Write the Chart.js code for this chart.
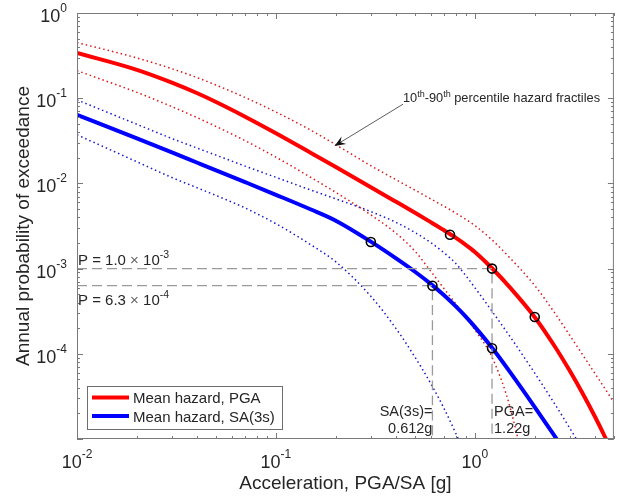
<!DOCTYPE html>
<html>
<head>
<meta charset="utf-8">
<script src="https://cdn.jsdelivr.net/npm/chart.js@4.4.0/dist/chart.umd.min.js"></script>
<style>
  html, body { margin: 0; padding: 0; background: #fff; }
</style>
</head>
<body>
<canvas id="myChart" width="620" height="498"></canvas>
<script>
// acceleration grid [g], shared by every hazard curve
const accel = [0.01, 0.02, 0.03, 0.04, 0.05, 0.07, 0.1, 0.15, 0.2, 0.3, 0.4, 0.5, 0.6, 0.7, 0.8, 0.9, 1.0, 1.22, 1.5, 2.0, 2.5, 3.0, 3.5, 4.0, 4.5, 5.0];

// PGA hazard: mean, 90th and 10th percentile
const meanPGA = [0.34, 0.2153, 0.1524, 0.115, 0.0903, 0.0607, 0.0388, 0.02278, 0.01554, 0.00903, 0.00612, 0.00452, 0.00351, 0.00282, 0.00231, 0.0019, 0.001565, 0.00101, 0.000603, 0.000269, 0.000126, 0.0000631, 0.0000335, 0.0000186, 0.0000107, 0.0000063];
const p90PGA = [0.45, 0.2968, 0.2216, 0.175, 0.1426, 0.1019, 0.0688, 0.042, 0.02845, 0.01613, 0.0111, 0.00834, 0.00658, 0.00539, 0.0045, 0.00379, 0.0032, 0.00217, 0.001337, 0.000633, 0.00031, 0.000165, 0.0000956, 0.0000595, 0.0000392, 0.0000269];
const p10PGA = [0.2109, 0.117, 0.0796, 0.0593, 0.0466, 0.0317, 0.0203, 0.01173, 0.00784, 0.00427, 0.00262, 0.0016, 0.000933, 0.000582, 0.000389, 0.000269, 0.000191, 0.0000912, 0.000024, 0.00000126, null, null, null, null, null, null];

// SA(3s) hazard: mean, 90th and 10th percentile
const meanSA = [0.0637, 0.0337, 0.0231, 0.0176, 0.01425, 0.01035, 0.00735, 0.00494, 0.00365, 0.00207, 0.001326, 0.000918, 0.000661, 0.000486, 0.000362, 0.000273, 0.000207, 0.0001176, 0.0000613, 0.0000237, 0.0000111, 0.0000059, null, null, null, null];
const p90SA = [0.0955, 0.0494, 0.0336, 0.0261, 0.02145, 0.01595, 0.01178, 0.00835, 0.00659, 0.00467, 0.0035, 0.00265, 0.00202, 0.00153, 0.001155, 0.000829, 0.000598, 0.000316, 0.00016, 0.0000593, 0.0000266, 0.0000134, 0.00000735, 0.0000043, null, null];
const p10SA = [0.0372, 0.01794, 0.01172, 0.00892, 0.00721, 0.00515, 0.00336, 0.0019, 0.0012, 0.000473, 0.0002, 0.0000914, 0.0000449, 0.0000228, 0.0000118, 0.0000063, 0.0000035, null, null, null, null, null, null, null, null, null];

// circled points on the mean curves
const markPGAx = [0.75, 1.22, 2.0];
const markPGAy = [0.0025, 0.001, 0.00027];
const markSAx = [0.3, 0.612, 1.22];
const markSAy = [0.00205, 0.00063, 0.000116];

// design levels: probability and resulting acceleration
const refP = [1.0e-3, 6.3e-4];
const refAccel = [1.22, 0.612];

// axis range and labelled decades
const xMin = 0.01, xMax = 5;
const yMin = 1e-5, yMax = 1;
const xTickExp = [-2, -1, 0];
const yTickExp = [-4, -3, -2, -1, 0];

const FONT = '"Liberation Sans", Arial, Helvetica, sans-serif';
const TEXT = '#262626';
const AXIS = '#7a7a7a';
const RED = 'rgb(255,0,0)';
const BLUE = 'rgb(0,0,255)';

function toXY(ys) {
  return accel.map((x, i) => ({x: x, y: ys[i]})).filter(p => p.y != null);
}

function pairs(xs, ys) {
  return xs.map((x, i) => ({x: x, y: ys[i]}));
}

// draw a run of text pieces, some raised as superscripts
function drawRich(ctx, parts, x, y, align) {
  let w = 0;
  parts.forEach(p => {
    ctx.font = p.size + 'px ' + FONT;
    p.w = ctx.measureText(p.t).width;
    w += p.w;
  });
  let cx = align === 'right' ? x - w : (align === 'center' ? x - w / 2 : x);
  parts.forEach(p => {
    ctx.font = p.size + 'px ' + FONT;
    ctx.fillStyle = p.color || TEXT;
    ctx.fillText(p.t, cx, y - (p.rise || 0));
    cx += p.w;
  });
}

function pow10(e) {
  return [{t: '10', size: 18}, {t: String(e), size: 12, rise: 10}];
}

const hazardDecor = {
  id: 'hazardDecor',
  afterDraw(chart) {
    const ctx = chart.ctx;
    const a = chart.chartArea;
    const xs = chart.scales.x;
    const ys = chart.scales.y;
    ctx.save();
    ctx.textAlign = 'left';
    ctx.textBaseline = 'alphabetic';

    // box and inward ticks
    ctx.strokeStyle = AXIS;
    ctx.lineWidth = 1;
    ctx.strokeRect(a.left + 0.5, a.top + 0.5, a.right - a.left - 1, a.bottom - a.top - 1);
    ctx.beginPath();
    for (let e = -2; e <= 0; e++) {
      for (let m = 1; m <= 9; m++) {
        const v = m * Math.pow(10, e);
        if (v < xMin || v > xMax) continue;
        const px = Math.round(xs.getPixelForValue(v)) + 0.5;
        const len = m === 1 ? 6 : 3;
        ctx.moveTo(px, a.bottom); ctx.lineTo(px, a.bottom - len);
        ctx.moveTo(px, a.top); ctx.lineTo(px, a.top + len);
      }
    }
    for (let e = -5; e <= 0; e++) {
      for (let m = 1; m <= 9; m++) {
        const v = m * Math.pow(10, e);
        if (v < yMin || v > yMax) continue;
        const py = Math.round(ys.getPixelForValue(v)) + 0.5;
        const len = m === 1 ? 6 : 3;
        ctx.moveTo(a.left, py); ctx.lineTo(a.left + len, py);
        ctx.moveTo(a.right, py); ctx.lineTo(a.right - len, py);
      }
    }
    ctx.stroke();

    // tick labels
    xTickExp.forEach(e => {
      drawRich(ctx, pow10(e), xs.getPixelForValue(Math.pow(10, e)), a.bottom + 29, 'center');
    });
    yTickExp.forEach(e => {
      drawRich(ctx, pow10(e), a.left - 10, ys.getPixelForValue(Math.pow(10, e)) + 9, 'right');
    });

    // probability levels
    const cross = {t: ' \u00d7 ', size: 15, color: '#666'};
    drawRich(ctx, [{t: 'P = 1.0', size: 15}, cross, {t: '10', size: 15}, {t: '-3', size: 10.5, rise: 7}],
      a.left + 1, ys.getPixelForValue(refP[0]) - 4, 'left');
    drawRich(ctx, [{t: 'P = 6.3', size: 15}, cross, {t: '10', size: 15}, {t: '-4', size: 10.5, rise: 7}],
      a.left + 1, ys.getPixelForValue(refP[1]) + 19, 'left');

    // resulting accelerations
    const xSA = xs.getPixelForValue(refAccel[1]);
    const xPGA = xs.getPixelForValue(refAccel[0]);
    drawRich(ctx, [{t: 'SA(3s)=', size: 14.5}], xSA, a.bottom - 23, 'right');
    drawRich(ctx, [{t: '0.612g', size: 14.5}], xSA, a.bottom - 6, 'right');
    drawRich(ctx, [{t: 'PGA=', size: 14.5}], xPGA + 2, a.bottom - 23, 'left');
    drawRich(ctx, [{t: '1.22g', size: 14.5}], xPGA + 2, a.bottom - 6, 'left');

    // fractile note with arrow
    const tailX = xs.getPixelForValue(0.435), tailY = ys.getPixelForValue(0.085);
    const tipX = xs.getPixelForValue(0.197), tipY = ys.getPixelForValue(0.0275);
    drawRich(ctx, [
      {t: '10', size: 12.8}, {t: 'th', size: 9, rise: 5}, {t: '-90', size: 12.8}, {t: 'th', size: 9, rise: 5},
      {t: ' percentile hazard fractiles', size: 12.8}
    ], tailX, tailY - 2.5, 'left');
    const ang = Math.atan2(tipY - tailY, tipX - tailX);
    ctx.strokeStyle = '#333';
    ctx.lineWidth = 0.8;
    ctx.beginPath();
    ctx.moveTo(tailX, tailY);
    ctx.lineTo(tipX - 6 * Math.cos(ang), tipY - 6 * Math.sin(ang));
    ctx.stroke();
    ctx.translate(tipX, tipY);
    ctx.rotate(ang);
    ctx.fillStyle = '#111';
    ctx.beginPath();
    ctx.moveTo(0, 0);
    ctx.lineTo(-11, -4.5);
    ctx.lineTo(-7, 0);
    ctx.lineTo(-11, 4.5);
    ctx.closePath();
    ctx.fill();
    ctx.setTransform(1, 0, 0, 1, 0, 0);

    // legend
    const lx = a.left + 10, ly = a.bottom - 53;
    ctx.fillStyle = '#fff';
    ctx.fillRect(lx, ly, 195, 43);
    ctx.strokeStyle = '#6e6e6e';
    ctx.lineWidth = 1;
    ctx.strokeRect(lx + 0.5, ly + 0.5, 195, 43);
    chart.data.datasets.filter(d => d.inLegend).forEach((d, i) => {
      const ry = ly + 11.5 + i * 18.5;
      ctx.strokeStyle = d.borderColor;
      ctx.lineWidth = 4;
      ctx.beginPath();
      ctx.moveTo(lx + 5, ry);
      ctx.lineTo(lx + 42, ry);
      ctx.stroke();
      drawRich(ctx, [{t: d.label, size: 15}], lx + 46, ry + 5.5, 'left');
    });
    ctx.restore();
  }
};

const dotted = {borderWidth: 1.5, borderDash: [1.5, 3], pointRadius: 0, order: 3};
const circles = {showLine: false, pointRadius: 4.5, pointBorderWidth: 1.6, pointBorderColor: '#000',
  pointBackgroundColor: 'rgba(0,0,0,0)', order: 0};
const dashed = {borderColor: '#9a9a9a', borderWidth: 1.3, borderDash: [10, 5], pointRadius: 0, order: 1};

const ctx = document.getElementById('myChart');
const myChart = new Chart(ctx, {
  type: 'line',
  data: {
    datasets: [
      Object.assign({label: 'marks PGA', data: pairs(markPGAx, markPGAy)}, circles),
      Object.assign({label: 'marks SA', data: pairs(markSAx, markSAy)}, circles),
      Object.assign({label: 'level PGA', data: [{x: xMin, y: refP[0]}, {x: refAccel[0], y: refP[0]}, {x: refAccel[0], y: yMin}]}, dashed),
      Object.assign({label: 'level SA', data: [{x: xMin, y: refP[1]}, {x: refAccel[1], y: refP[1]}, {x: refAccel[1], y: yMin}]}, dashed),
      {label: 'Mean hazard, PGA', inLegend: true, data: toXY(meanPGA), borderColor: RED, borderWidth: 4, pointRadius: 0, order: 2},
      {label: 'Mean hazard, SA(3s)', inLegend: true, data: toXY(meanSA), borderColor: BLUE, borderWidth: 4, pointRadius: 0, order: 2},
      Object.assign({label: '90th PGA', data: toXY(p90PGA), borderColor: '#d81818'}, dotted),
      Object.assign({label: '10th PGA', data: toXY(p10PGA), borderColor: '#d81818'}, dotted),
      Object.assign({label: '90th SA', data: toXY(p90SA), borderColor: '#1818cc'}, dotted),
      Object.assign({label: '10th SA', data: toXY(p10SA), borderColor: '#1818cc'}, dotted)
    ]
  },
  options: {
    responsive: false,
    animation: false,
    devicePixelRatio: 1,
    layout: {padding: {top: 13, right: 4, left: 0, bottom: 0}},
    elements: {line: {cubicInterpolationMode: 'monotone', fill: false}},
    plugins: {legend: {display: false}, tooltip: {enabled: false}},
    scales: {
      x: {
        type: 'logarithmic', min: xMin, max: xMax,
        ticks: {display: false}, grid: {display: false}, border: {display: false},
        title: {display: true, text: 'Acceleration, PGA/SA [g]', color: TEXT,
          font: {family: FONT, size: 19}, padding: {top: 0, bottom: 3}},
        afterFit(s) { s.height = 59; }
      },
      y: {
        type: 'logarithmic', min: yMin, max: yMax,
        ticks: {display: false}, grid: {display: false}, border: {display: false},
        title: {display: true, text: 'Annual probability of exceedance', color: TEXT,
          font: {family: FONT, size: 19}, padding: {top: 12, bottom: 0}},
        afterFit(s) { s.width = 77; }
      }
    }
  },
  plugins: [hazardDecor]
});
</script>
</body>
</html>
